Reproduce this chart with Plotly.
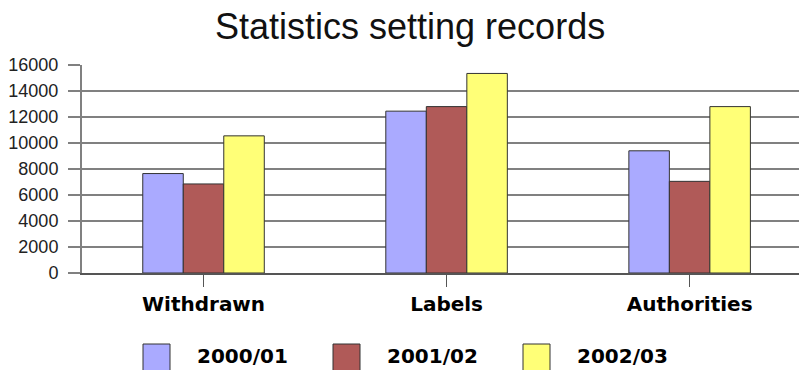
import plotly.graph_objects as go

categories = ["Withdrawn", "Labels", "Authorities"]
series_names = ["2000/01", "2001/02", "2002/03"]
values_2000_01 = [7650, 12450, 9400]
values_2001_02 = [6850, 12800, 7050]
values_2002_03 = [10550, 15350, 12800]
series_values = [values_2000_01, values_2001_02, values_2002_03]
colors = ["#aaaaff", "#b05a58", "#ffff77"]
y_tick_values = [0, 2000, 4000, 6000, 8000, 10000, 12000, 14000, 16000]
y_tick_labels = [str(v) for v in y_tick_values]

W, H = 799, 370
ML, MT, MB = 82, 65, 97
plot_w = W - ML
plot_h = H - MT - MB

fig = go.Figure()
for name, vals, col in zip(series_names, series_values, colors):
    fig.add_trace(go.Bar(
        x=categories, y=vals, name=name,
        marker=dict(color=col, line=dict(color="#333333", width=1)),
        showlegend=False,
    ))

def px_x(x):
    return (x - ML) / plot_w

def px_y(y):
    return (H - MB - y) / plot_h

shapes = []
annotations = []
leg_x0 = 143
leg_step = 190
for i, (name, col) in enumerate(zip(series_names, colors)):
    x0 = leg_x0 + i * leg_step
    shapes.append(dict(type="rect", xref="paper", yref="paper",
                       x0=px_x(x0), x1=px_x(x0 + 27),
                       y0=px_y(344), y1=px_y(371),
                       fillcolor=col, line=dict(color="#333333", width=1)))
    annotations.append(dict(xref="paper", yref="paper",
                            x=px_x(x0 + 52), y=px_y(356),
                            xanchor="left", yanchor="middle",
                            text=name, showarrow=False,
                            font=dict(family="DejaVu Sans", size=20,
                                      color="black", weight="bold")))

annotations.append(dict(xref="paper", yref="paper",
                        x=px_x(410), y=px_y(26),
                        xanchor="center", yanchor="middle",
                        text="Statistics setting records", showarrow=False,
                        font=dict(family="Liberation Sans, Arial", size=36,
                                  color="#111111")))

fig.update_layout(
    width=W, height=H,
    margin=dict(l=ML, r=0, t=MT, b=MB, pad=0),
    paper_bgcolor="white", plot_bgcolor="white",
    barmode="group", bargap=0.5, bargroupgap=0,
    shapes=shapes, annotations=annotations,
    xaxis=dict(
        range=[-0.5, 2.45], showgrid=False, zeroline=False,
        showline=True, linecolor="#555555", linewidth=2,
        ticks="outside", ticklen=12, tickwidth=1, tickcolor="#555555",
        tickfont=dict(family="DejaVu Sans", size=20, color="black", weight="bold"),
        fixedrange=True,
    ),
    yaxis=dict(
        range=[0, 16000], tickvals=y_tick_values, ticktext=y_tick_labels,
        showgrid=True, gridcolor="#808080", gridwidth=2,
        zeroline=False, showline=True, linecolor="#808080", linewidth=2,
        ticks="outside", ticklen=12, tickwidth=2, tickcolor="#808080",
        ticklabelstandoff=6,
        tickfont=dict(family="Liberation Sans, Arial", size=18, color="#222222"),
        fixedrange=True,
    ),
)

fig.write_html("out.html", config={"displayModeBar": False})
